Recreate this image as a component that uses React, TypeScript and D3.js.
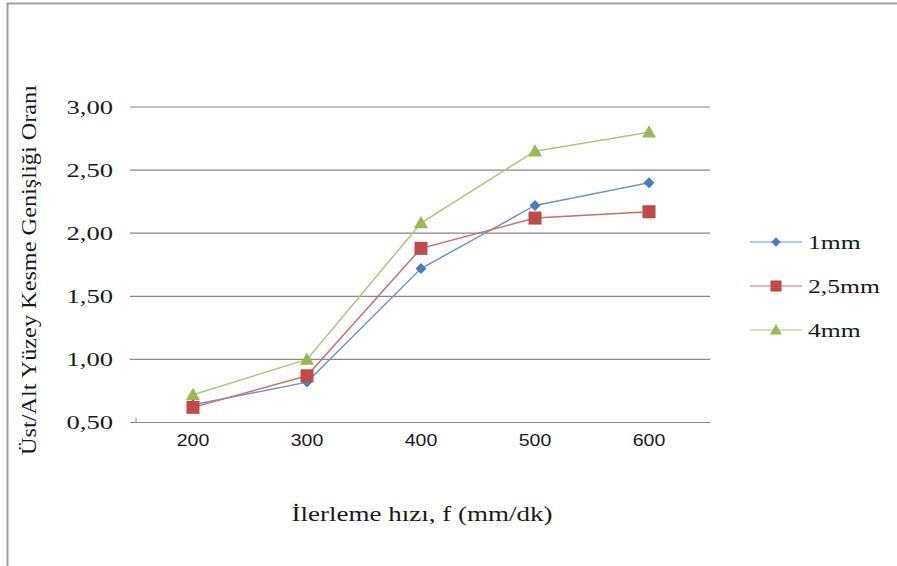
import React from "react";
import * as d3 from "d3";

const feedRates = ["200", "300", "400", "500", "600"];
const series1mm = [0.64, 0.82, 1.72, 2.22, 2.4];
const series25mm = [0.62, 0.87, 1.88, 2.12, 2.17];
const series4mm = [0.72, 1.0, 2.08, 2.65, 2.8];
const seriesNames = ["1mm", "2,5mm", "4mm"];
const yTicks = [0.5, 1.0, 1.5, 2.0, 2.5, 3.0];

const W = 897;
const H = 566;
const plot = { left: 136, right: 706, top: 107, bottom: 422.5 };

const colors = ["#4a7ebb", "#be4b48", "#98b954"];
const lineColors = ["#6f95cc", "#cc6f6d", "#aac87a"];
const SERIF = "'Liberation Serif', 'Times New Roman', serif";
const SANS = "'Liberation Sans', Arial, sans-serif";

// Text widened horizontally, anchored at (x, y)
function WideText(props: {
  x: number;
  y: number;
  sx: number;
  size: number;
  anchor?: "start" | "middle" | "end";
  family?: string;
  children: React.ReactNode;
}) {
  const { x, y, sx, size, anchor = "start", family = SERIF, children } = props;
  return (
    <text
      transform={`translate(${x},${y}) scale(${sx},1)`}
      textAnchor={anchor}
      dy="0.35em"
      style={{ fontFamily: family, fontSize: size }}
      fill="#1a1a1a"
    >
      {children}
    </text>
  );
}

export default function App() {
  const x = d3
    .scaleBand<string>()
    .domain(feedRates)
    .range([plot.left, plot.right]);
  const y = d3.scaleLinear().domain([0.5, 3.0]).range([plot.bottom, plot.top]);
  const cx = (c: string) => (x(c) ?? 0) + x.bandwidth() / 2;

  const all = [series1mm, series25mm, series4mm];
  const line = d3
    .line<number>()
    .x((_, i) => cx(feedRates[i]))
    .y((v) => y(v));

  const marker = (k: number, px: number, py: number, key: string, scale = 1) => {
    if (k === 0) {
      const s = 5.5 * scale;
      return (
        <path
          key={key}
          d={`M${px},${py - s}L${px + s},${py}L${px},${py + s}L${px - s},${py}Z`}
          fill={colors[0]}
        />
      );
    }
    if (k === 1) {
      const s = 6.5 * scale;
      return <rect key={key} x={px - s} y={py - s} width={2 * s} height={2 * s} fill={colors[1]} />;
    }
    const s = 7 * scale;
    return (
      <path
        key={key}
        d={`M${px},${py - s}L${px + s},${py + s * 0.75}L${px - s},${py + s * 0.75}Z`}
        fill={colors[2]}
      />
    );
  };

  const legendRows = [242, 286, 330];
  const fmt = (v: number) => v.toFixed(2).replace(".", ",");

  return (
    <svg width={W} height={H} style={{ position: "absolute", left: 0, top: 0, background: "#fff" }}>
      <rect x={7.5} y={3.5} width={W + 10} height={H + 10} fill="#fff" stroke="#a0a0a0" strokeWidth={2} />

      {yTicks.map((t) => (
        <g key={t}>
          <line x1={plot.left - 6} x2={plot.right + 4} y1={y(t)} y2={y(t)} stroke="#888" strokeWidth={1.2} />
          <WideText x={113} y={y(t)} sx={1.4} size={19} anchor="end">
            {fmt(t)}
          </WideText>
        </g>
      ))}
      <line x1={plot.left} x2={plot.left} y1={plot.bottom} y2={plot.bottom - 5} stroke="#888" />

      {feedRates.map((c) => (
        <WideText key={c} x={cx(c)} y={440} sx={1.15} size={17} anchor="middle" family={SANS}>
          {c}
        </WideText>
      ))}

      {all.map((s, k) => (
        <path key={"l" + k} d={line(s) ?? ""} fill="none" stroke={lineColors[k]} strokeWidth={1.5} />
      ))}
      {all.map((s, k) => s.map((v, i) => marker(k, cx(feedRates[i]), y(v), `m${k}-${i}`)))}

      {seriesNames.map((n, k) => (
        <g key={n}>
          <line x1={750} x2={802} y1={legendRows[k]} y2={legendRows[k]} stroke={lineColors[k]} strokeWidth={1.2} />
          {marker(k, 776, legendRows[k], "lg" + k, 0.85)}
          <WideText x={808} y={legendRows[k]} sx={1.35} size={19}>
            {n}
          </WideText>
        </g>
      ))}

      <WideText x={422} y={514} sx={1.35} size={20} anchor="middle">
        İlerleme hızı, f (mm/dk)
      </WideText>
      <text
        transform="translate(29,270) rotate(-90)"
        textAnchor="middle"
        dy="0.35em"
        textLength={370}
        lengthAdjust="spacingAndGlyphs"
        style={{ fontFamily: SERIF, fontSize: 20 }}
        fill="#1a1a1a"
      >
        Üst/Alt Yüzey Kesme Genişliği Oranı
      </text>
    </svg>
  );
}
